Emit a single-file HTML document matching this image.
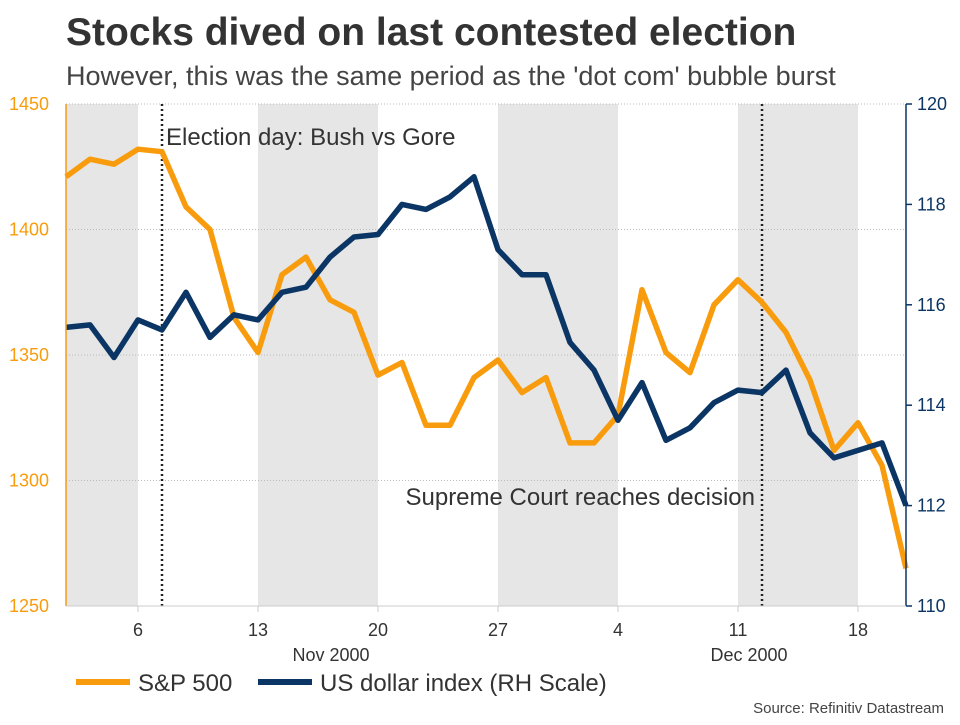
<!DOCTYPE html>
<html><head><meta charset="utf-8"><style>
body{margin:0;background:#fff;font-family:"Liberation Sans",sans-serif;}
svg text{font-family:"Liberation Sans",sans-serif;}
</style></head><body>
<svg id="c" width="960" height="720" viewBox="0 0 960 720">
<text x="66" y="45" font-size="39" font-weight="bold" fill="#333">Stocks dived on last contested election</text>
<text x="66" y="85" font-size="27" fill="#444">However, this was the same period as the 'dot com' bubble burst</text>
<g id="plot"></g>
<text x="944" y="713" font-size="15" fill="#444" text-anchor="end">Source: Refinitiv Datastream</text>
</svg>
<script>
const spx = [1421,1428,1426,1432,1431,1409,1400,1365,1351,1382,1389,1372,1367,1342,1347,1322,1322,1341,1348,1335,1341,1315,1315,1326,1376,1351,1343,1370,1380,1371,1359,1340,1312,1323,1306,1265];
const usd = [115.55,115.6,114.95,115.7,115.5,116.25,115.35,115.8,115.7,116.25,116.35,116.95,117.35,117.4,118,117.9,118.15,118.55,117.1,116.6,116.6,115.25,114.7,113.7,114.45,113.3,113.55,114.05,114.3,114.25,114.7,113.45,112.95,113.1,113.25,112.0];
const leftTicks = [1250,1300,1350,1400,1450];
const rightTicks = [110,112,114,116,118,120];
const xTickIdx = [3,8,13,18,23,28,33];
const xTickLabels = ["6","13","20","27","4","11","18"];
const shadeStarts = [0,8,18,28];
const shadeEnds = [3,13,23,33];
const eventIdx = [4,29];
const eventLabels = ["Election day: Bush vs Gore","Supreme Court reaches decision"];

const X0=66,X1=906,Y0=104,Y1=606;
const x = i => X0 + i*(X1-X0)/(spx.length-1);
const yL = v => Y1 - (v-1250)/(1450-1250)*(Y1-Y0);
const yR = v => Y1 - (v-110)/(120-110)*(Y1-Y0);
const NS="http://www.w3.org/2000/svg";
const g=document.getElementById('plot');
function mk(t,a){const e=document.createElementNS(NS,t);for(const k in a)e.setAttribute(k,a[k]);g.appendChild(e);return e;}

shadeStarts.forEach((s,k)=>{
  const e=mk('rect',{x:x(s),y:Y0,width:x(shadeEnds[k])-x(s),height:Y1-Y0,fill:'#e6e6e6'});
  
  
});
[1300,1350,1400,1450].forEach(v=>{
  const e=mk('line',{x1:X0,x2:X1,y1:yL(v),y2:yL(v),stroke:'#bbb','stroke-dasharray':'1,2'});
  
  
});
eventIdx.forEach((i,k)=>{
  const e=mk('line',{x1:x(i),x2:x(i),y1:Y0,y2:Y1,stroke:'#222','stroke-width':2.5,'stroke-dasharray':'2,3'});
  
  
});
{const t=mk('text',{x:x(eventIdx[0])+4,y:145,'font-size':24,fill:'#333'});t.textContent=eventLabels[0];

}
{const t=mk('text',{x:x(eventIdx[1])-7,y:505,'font-size':24,fill:'#333','text-anchor':'end'});t.textContent=eventLabels[1];

}

function line(arr,fy,col,name){
  const d=arr.map((v,i)=>(i?'L':'M')+x(i).toFixed(1)+','+fy(v).toFixed(1)).join('');
  const e=mk('path',{d:d,fill:'none',stroke:col,'stroke-width':5.5,'stroke-linejoin':'round'});
  
  
}
line(spx,yL,'#f89c0e','sp500-line');
line(usd,yR,'#0b3564','usd-index-line');

{const e=mk('line',{x1:X0,x2:X0,y1:Y0,y2:Y1,stroke:'#f89c0e','stroke-width':1.5});

}
{const e=mk('line',{x1:X1,x2:X1,y1:Y0,y2:Y1,stroke:'#0b3564','stroke-width':1.5});

}
{const e=mk('line',{x1:X0,x2:X1,y1:Y1,y2:Y1,stroke:'#ccc','stroke-width':1});

}
leftTicks.forEach(v=>{
  const t=mk('text',{x:9,y:yL(v)+6,'font-size':18,fill:'#f89c0e'});t.textContent=v;
  
  
});
rightTicks.forEach(v=>{
  mk('line',{x1:X1,x2:X1+6,y1:yR(v),y2:yR(v),stroke:'#0b3564','stroke-width':1.5});
  const t=mk('text',{x:917,y:yR(v)+6,'font-size':18,fill:'#0b3564'});t.textContent=v;
  
  
});
xTickIdx.forEach((i,k)=>{
  mk('line',{x1:x(i),x2:x(i),y1:Y1,y2:Y1+6,stroke:'#ccc'});
  const t=mk('text',{x:x(i),y:636,'font-size':18,fill:'#333','text-anchor':'middle'});t.textContent=xTickLabels[k];
  
  
});
[['Nov 2000',331],['Dec 2000',749]].forEach(([s,px])=>{
  const t=mk('text',{x:px,y:661,'font-size':18,fill:'#333','text-anchor':'middle'});t.textContent=s;
  
  
});
[['S&P 500','#f89c0e',76],['US dollar index (RH Scale)','#0b3564',258]].forEach(([s,c,px])=>{
  const l=mk('line',{x1:px,x2:px+54,y1:682,y2:682,stroke:c,'stroke-width':6});
  
  
  const t=mk('text',{x:px+62,y:691,'font-size':24,fill:'#333'});t.textContent=s;
  
  
});
</script>
</body></html>
